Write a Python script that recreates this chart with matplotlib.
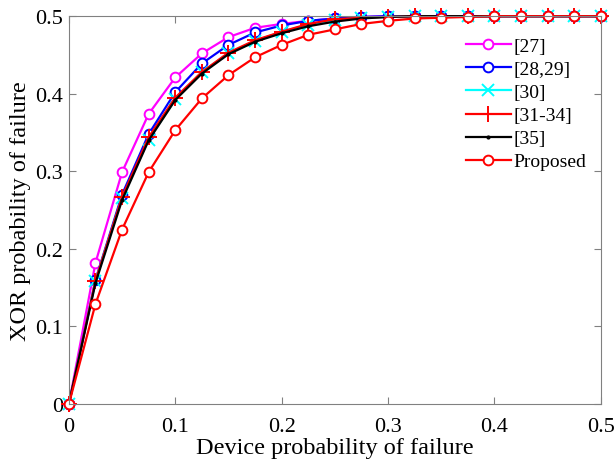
import numpy as np
import matplotlib.pyplot as plt

plt.rcParams['font.family'] = ['Liberation Serif', 'DejaVu Serif']

# device probability of failure
p = [0, 0.025, 0.05, 0.075, 0.1, 0.125, 0.15, 0.175, 0.2, 0.225, 0.25,
     0.275, 0.3, 0.325, 0.35, 0.375, 0.4, 0.425, 0.45, 0.475, 0.5]

ref27 = [0, 0.182, 0.299, 0.374, 0.421, 0.452, 0.473, 0.485, 0.490, 0.494, 0.497,
         0.499, 0.5, 0.5, 0.5, 0.5, 0.5, 0.5, 0.5, 0.5, 0.5]
ref28_29 = [0, 0.160, 0.270, 0.348, 0.402, 0.439, 0.463, 0.479, 0.488, 0.494, 0.497,
            0.499, 0.5, 0.5, 0.5, 0.5, 0.5, 0.5, 0.5, 0.5, 0.5]
ref30 = [0, 0.159, 0.266, 0.341, 0.393, 0.428, 0.452, 0.468, 0.480, 0.489, 0.495,
         0.498, 0.499, 0.5, 0.5, 0.5, 0.5, 0.5, 0.5, 0.5, 0.5]
ref31_34 = [0, 0.159, 0.267, 0.344, 0.395, 0.428, 0.453, 0.469, 0.480, 0.490, 0.496,
            0.498, 0.499, 0.5, 0.5, 0.5, 0.5, 0.5, 0.5, 0.5, 0.5]
ref35 = [0, 0.156, 0.263, 0.340, 0.392, 0.426, 0.451, 0.467, 0.478, 0.487, 0.493,
         0.497, 0.499, 0.5, 0.5, 0.5, 0.5, 0.5, 0.5, 0.5, 0.5]
proposed = [0, 0.129, 0.225, 0.299, 0.353, 0.394, 0.424, 0.447, 0.463, 0.476, 0.483,
            0.490, 0.494, 0.497, 0.498, 0.499, 0.5, 0.5, 0.5, 0.5, 0.5]

labels = ['[27]', '[28,29]', '[30]', '[31-34]', '[35]', 'Proposed']

fig = plt.figure(figsize=(6.15, 4.64), dpi=100)
ax = fig.add_axes([0.112, 0.127, 0.865, 0.836])

common = dict(lw=1.6, clip_on=False)
ax.plot(p, ref27, color='#ff00ff', marker='o', ms=7, mfc='white', mew=1.4, label=labels[0], **common)
ax.plot(p, ref28_29, color='#0000ff', marker='o', ms=7, mfc='white', mew=1.4, label=labels[1], **common)
ax.plot(p, ref30, color='#00ffff', marker='x', ms=8, mew=1.4, label=labels[2], **common)
ax.plot(p, ref31_34, color='#ff0000', marker='+', ms=11, mew=1.4, label=labels[3], **common)
ax.plot(p, ref35, color='black', marker='.', ms=4, label=labels[4], **common)
ax.plot(p, proposed, color='#ff0000', marker='o', ms=7, mfc='white', mew=1.4, label=labels[5], **common)

ax.set_xlim(0, 0.5)
ax.set_ylim(0, 0.5)
ax.set_xticks([0, 0.1, 0.2, 0.3, 0.4, 0.5])
ax.set_yticks([0, 0.1, 0.2, 0.3, 0.4, 0.5])
ax.set_xticklabels(['0', '0.1', '0.2', '0.3', '0.4', '0.5'])
ax.set_yticklabels(['0', '0.1', '0.2', '0.3', '0.4', '0.5'])
ax.tick_params(direction='in', top=True, right=True, labelsize=16, length=5,
               color='#808080')
ax.tick_params(axis='x', pad=9)
ax.tick_params(axis='y', pad=4)
for s in ax.spines.values():
    s.set_color('#808080')
    s.set_linewidth(0.8)

ax.set_xlabel('Device probability of failure', fontsize=17.5, labelpad=1)
ax.set_ylabel('XOR probability of failure', fontsize=17.5, labelpad=3)

ax.legend(loc='upper right', bbox_to_anchor=(0.995, 0.975), frameon=False, fontsize=14,
          handlelength=2.3, handletextpad=0.15, labelspacing=0.28, borderaxespad=0.2)

fig.savefig('out.png', dpi=100)
